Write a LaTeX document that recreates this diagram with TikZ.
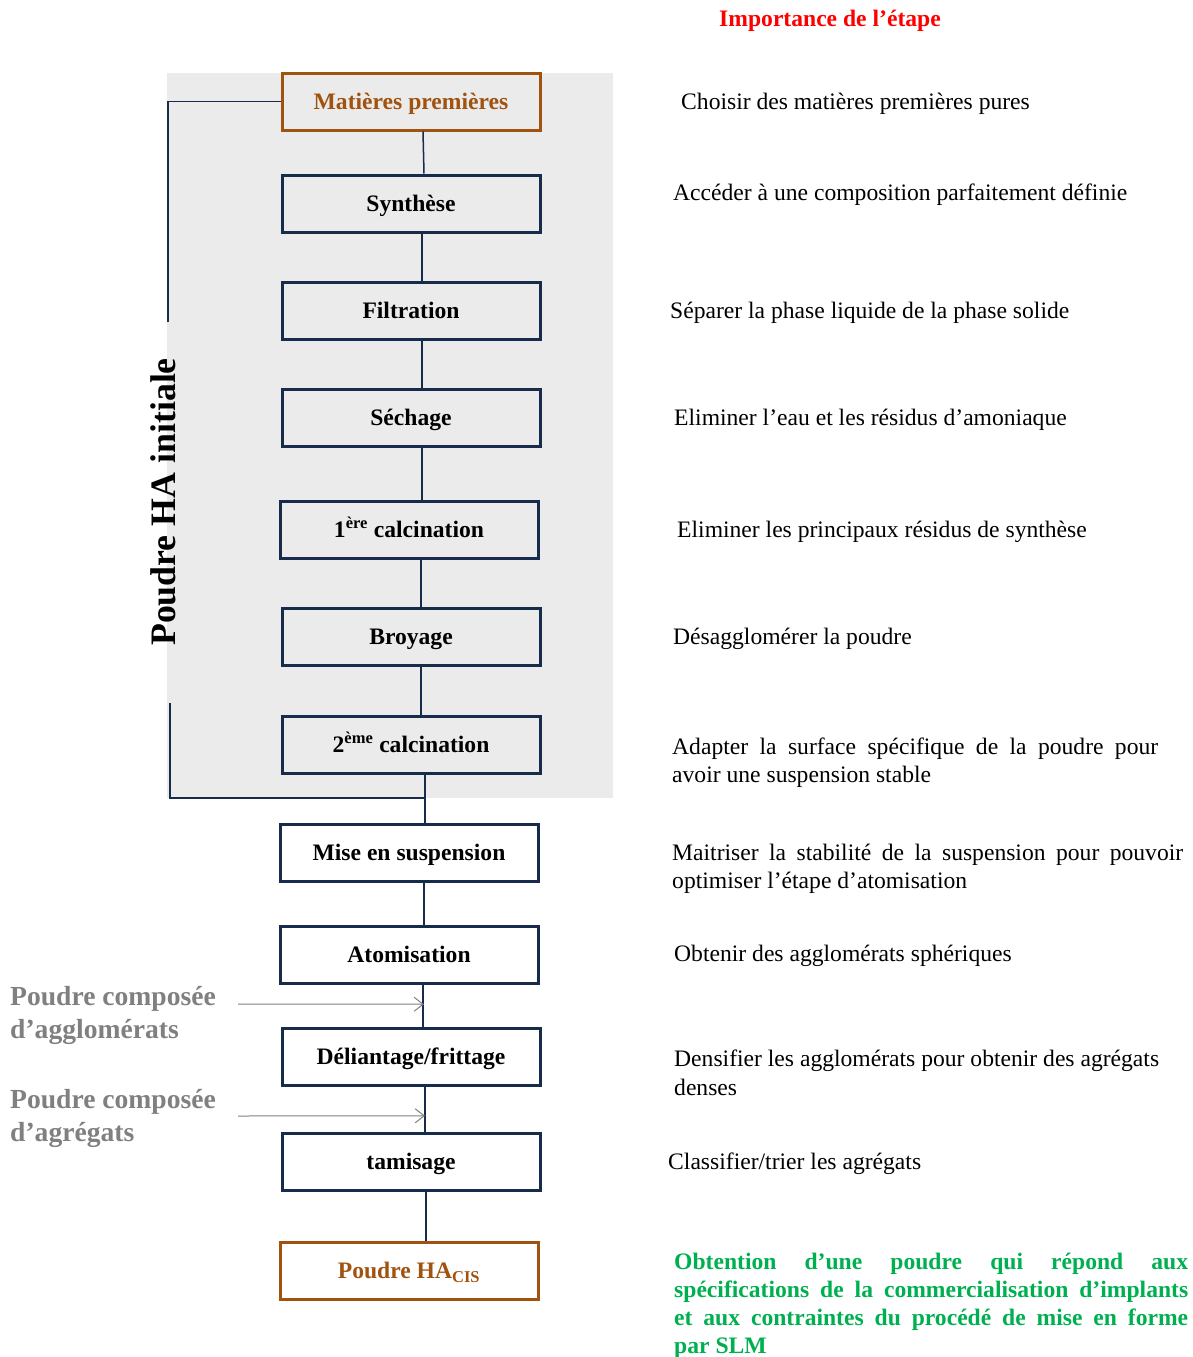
\documentclass[tikz,border=0pt]{standalone}
\usepackage{fontspec}
\setmainfont{Liberation Serif}
\usetikzlibrary{arrows.meta, positioning, calc}
\definecolor{navy}{RGB}{23,43,74}
\definecolor{rust}{RGB}{160,82,15}
\definecolor{panel}{RGB}{235,235,235}
\definecolor{leaf}{RGB}{0,176,80}
\definecolor{ash}{RGB}{128,128,128}
\tikzset{
    etape/.style = {rectangle, draw=navy, line width=3pt, minimum width=258pt, minimum height=57pt, align=center, text height=17pt, text depth=1pt, font=\fontsize{23.6}{28}\selectfont\bfseries},
    brut/.style = {etape, draw=rust, text=rust},
    lien/.style = {navy, line width=1.5pt},
    desc/.style = {anchor=west, inner sep=0pt, yshift=-2pt, font=\fontsize{23.6}{28.5}\selectfont},
    gris/.style = {anchor=west, inner sep=0pt, align=left, text=ash, font=\fontsize{27.6}{33}\selectfont\bfseries},
    fleche/.style = {ash, line width=1pt, -{Straight Barb[length=9pt,width=14pt]}}
}

\begin{document}
\begin{tikzpicture}[x=1pt, y=-1pt]
\useasboundingbox (0,0) rectangle (1192,1357);
% fond gris
\fill[panel] (167,73) rectangle (613,798);

\node (titre) [text=red, font=\fontsize{23.6}{28}\selectfont\bfseries] at (830,21) {Importance de l’étape};

% etapes
\node (mat)  [brut]  at (411,101.5)  {Matières premières};
\node (syn)  [etape] at (411,203.5)  {Synthèse};
\node (fil)  [etape] at (411,310.5)  {Filtration};
\node (sec)  [etape] at (411,417.5)  {Séchage};
\node (cal1) [etape] at (409,529.5)  {1\textsuperscript{ère} calcination};
\node (bro)  [etape] at (411,636.5)  {Broyage};
\node (cal2) [etape] at (411,744.5)  {2\textsuperscript{ème} calcination};
\node (sus)  [etape] at (409,852.5)  {Mise en suspension};
\node (ato)  [etape] at (409,954.5)  {Atomisation};
\node (del)  [etape] at (411,1056.5) {Déliantage/frittage};
\node (tam)  [etape] at (411,1161.5) {tamisage};
\node (cis)  [brut]  at (409,1270.5) {Poudre HA\textsubscript{CIS}};

\draw [lien] ([xshift=12pt]mat.south) -- ([xshift=13pt]syn.north);
\draw [lien] ([xshift=11pt]syn.south) -- ([xshift=11pt]fil.north);
\draw [lien] ([xshift=11pt]fil.south) -- ([xshift=11pt]sec.north);
\draw [lien] ([xshift=11pt]sec.south) -- ([xshift=13pt]cal1.north);
\draw [lien] ([xshift=12pt]cal1.south) -- ([xshift=10pt]bro.north);
\draw [lien] ([xshift=10pt]bro.south) -- ([xshift=10pt]cal2.north);
\draw [lien] ([xshift=14pt]cal2.south) -- ([xshift=16pt]sus.north);
\draw [lien] ([xshift=15pt]sus.south) -- ([xshift=15pt]ato.north);
\draw [lien] ([xshift=14pt]ato.south) -- ([xshift=12pt]del.north);
\draw [lien] ([xshift=14pt]del.south) -- ([xshift=14pt]tam.north);
\draw [lien] ([xshift=15pt]tam.south) -- ([xshift=17pt]cis.north);

% accolade poudre initiale
\coordinate (j) at (425,798);
\draw [lien, line width=1.2pt] (mat.west) -| (168,322);
\draw [lien, line width=1.2pt] (170,703) |- (j);
\node (ini) [rotate=90, font=\fontsize{35.8}{40}\selectfont\bfseries] at (163,502) {Poudre HA initiale};

% poudres intermediaires
\node (agl) [gris] at (10,1015) {Poudre composée\\d’agglomérats};
\node (agr) [gris] at (10,1118) {Poudre composée\\d’agrégats};
\coordinate (a1) at (238,1004);
\coordinate (a2) at (238,1116);
\coordinate (b1) at ($(ato.south)!0.47!(del.north)+(14,0)$);
\coordinate (b2) at ($(del.south)!0.65!(tam.north)+(14,0)$);
\draw [fleche] (a1) -- (b1);
\draw [fleche] (a2) -- (b2);

% importance de chaque etape
\node (d1)  [desc] at (681,102)  {Choisir des matières premières pures};
\node (d2)  [desc] at (673,193)  {Accéder à une composition parfaitement définie};
\node (d3)  [desc] at (670,311)  {Séparer la phase liquide de la phase solide};
\node (d4)  [desc] at (674,418)  {Eliminer l’eau et les résidus d’amoniaque};
\node (d5)  [desc] at (677,530)  {Eliminer les principaux résidus de synthèse};
\node (d6)  [desc] at (673,637)  {Désagglomérer la poudre};
\node (d7)  [desc, text width=486pt, align=justify] at (672,760.5) {Adapter la surface spécifique de la poudre pour\linebreak avoir une suspension stable};
\node (d8)  [desc, text width=511pt, align=justify] at (672,867) {Maitriser la stabilité de la suspension pour pouvoir\linebreak optimiser l’étape d’atomisation};
\node (d9)  [desc] at (674,954)  {Obtenir des agglomérats sphériques};
\node (d10) [desc, align=left] at (674,1071) {Densifier les agglomérats pour obtenir des agrégats\\denses};
\node (d11) [desc] at (668,1162) {Classifier/trier les agrégats};
\node (fin) [desc, text=leaf, font=\fontsize{23.6}{28}\selectfont\bfseries, text width=514pt, align=justify] at (674,1304) {Obtention d’une poudre qui répond aux\linebreak spécifications de la commercialisation d’implants\linebreak et aux contraintes du procédé de mise en forme\linebreak par SLM};
\end{tikzpicture}
\end{document}
